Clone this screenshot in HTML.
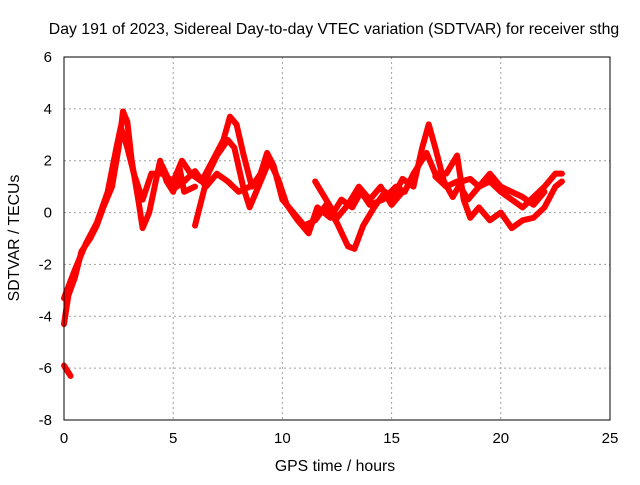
<!DOCTYPE html>
<html><head><meta charset="utf-8"><style>
body{margin:0;background:#fff}
svg{font-family:"Liberation Sans",sans-serif;font-size:15px}
</style></head><body>
<svg id="c" width="640" height="480" xmlns="http://www.w3.org/2000/svg">
<text x="334" y="34" text-anchor="middle" font-size="15.8">Day 191 of 2023, Sidereal Day-to-day VTEC variation (SDTVAR) for receiver sthg</text>
<text x="335" y="471" text-anchor="middle" font-size="15.8">GPS time / hours</text>
<text transform="translate(19,238) rotate(-90)" text-anchor="middle" font-size="15.8">SDTVAR / TECUs</text>
<g id="grid"></g><g id="ticks"></g><g id="series"></g>
<rect x="64" y="57" width="546" height="363" fill="none" stroke="#000"/>
</svg>
<script>
const xTicks=[0,5,10,15,20,25];
const yTicks=[-8,-6,-4,-2,0,2,4,6];
const track1=[[0,-5.9],[0.15,-6.1],[0.3,-6.3]];
const track2=[[0,-4.3],[0.2,-3.2],[0.5,-2.5],[0.8,-1.5],[1.2,-1.0],[1.5,-0.5],[1.8,0.2],[2.2,1],[2.5,2.5],[2.7,3.9],[2.9,3.5],[3.1,2],[3.4,0.5],[3.6,-0.6],[3.9,0],[4.2,1.2],[4.4,2],[4.7,1.2],[5,0.8],[5.3,1.7],[5.5,0.8],[6,1]];
const track3=[[0,-3.3],[0.5,-2.2],[1,-1.2],[1.5,-0.4],[2,0.8],[2.4,2.5],[2.6,3.3],[2.9,2.5],[3.2,1.5],[3.6,0.5],[4,1.5],[4.5,1.5],[5,1.2],[5.4,2],[5.8,1.5],[6.3,1.2],[6.8,2],[7.3,2.8],[7.6,3.7],[7.9,3.4],[8.2,2.3],[8.6,1],[9,1.5],[9.3,2.3],[9.6,1.8],[10,0.5],[10.5,0],[11,-0.5],[11.5,-0.3],[12,0.3],[12.5,-0.4],[13,-1.3],[13.3,-1.4],[13.7,-0.5],[14.2,0.2],[14.7,0.8],[15,0.5],[15.5,1.3],[16,1.0],[16.4,2.5],[16.7,3.4],[17,2.5],[17.4,1.2],[17.8,0.6],[18.2,1.2],[18.6,1.3],[19,1.0],[19.5,1.2],[20,0.8],[20.5,0.5],[21,0.2],[21.5,0.6],[22,1.0],[22.5,1.5],[22.8,1.5]];
const track4=[[6,-0.5],[6.3,0.5],[6.6,1.5],[7,2.2],[7.5,2.8],[7.8,2.5],[8.2,1.0],[8.5,0.2],[9,1.2],[9.4,2.0],[9.8,1.3],[10.2,0.3],[10.7,-0.3],[11.2,-0.8],[11.6,0.2],[12.2,-0.2],[12.7,0.5],[13.2,0.2],[13.6,0.8],[14,0.3],[14.6,0.5],[15.2,1.0],[15.6,0.8],[16,1.5],[16.6,2.3],[17,1.5],[17.5,1.5],[18,2.2],[18.3,0.5],[18.6,-0.2],[19,0.2],[19.5,-0.3],[20,0],[20.5,-0.6],[21,-0.3],[21.5,-0.2],[22,0.2],[22.5,1.0],[22.8,1.2]];
const track5=[[4.5,1.8],[5,0.9],[5.5,1.2],[6,1.6],[6.5,1.0],[7,1.5],[7.5,1.2],[8,0.8],[8.5,1.0]];
const track6=[[17,1.4],[17.5,1.0],[18,1.2],[18.5,0.5],[19,1.0],[19.5,1.5],[20,1.0],[20.5,0.8],[21,0.6],[21.5,0.3],[22,0.8]];
const track7=[[11.5,1.2],[12,0.5],[12.5,-0.2],[13,0.3],[13.5,1.0],[14,0.5],[14.5,1.0],[15,0.3],[15.5,0.8]];
const tracks=[track1,track2,track3,track4,track5,track6,track7];
const L=64,R=610,T=57,B=420,NS="http://www.w3.org/2000/svg";
const sx=v=>L+(v-0)/(25-0)*(R-L);
const sy=v=>B-(v+8)/(6+8)*(B-T);
function mk(tag,at,parent){const e=document.createElementNS(NS,tag);for(const k in at)e.setAttribute(k,at[k]);parent.appendChild(e);return e;}
const grid=document.getElementById('grid'),tk=document.getElementById('ticks'),ser=document.getElementById('series');
xTicks.forEach(v=>{
  if(v>0&&v<25){const g=mk('line',{x1:sx(v),x2:sx(v),y1:T,y2:B,stroke:'#a0a0a0','stroke-dasharray':'2,3'},grid);
  
  }
  const t=mk('text',{x:sx(v),y:B+23,'text-anchor':'middle'},tk);t.textContent=v;
  
  
});
yTicks.forEach(v=>{
  if(v>-8&&v<6){const g=mk('line',{x1:L,x2:R,y1:sy(v),y2:sy(v),stroke:'#a0a0a0','stroke-dasharray':'2,3'},grid);
  
  }
  const t=mk('text',{x:L-12,y:sy(v)+5,'text-anchor':'end'},tk);t.textContent=v;
  
  
});
tracks.forEach(tr=>{
  const p=mk('polyline',{points:tr.map(d=>sx(d[0])+','+sy(d[1])).join(' '),fill:'none',stroke:'#f00','stroke-width':6,'stroke-linejoin':'round','stroke-linecap':'round'},ser);
  
  
});
</script>
</body></html>
